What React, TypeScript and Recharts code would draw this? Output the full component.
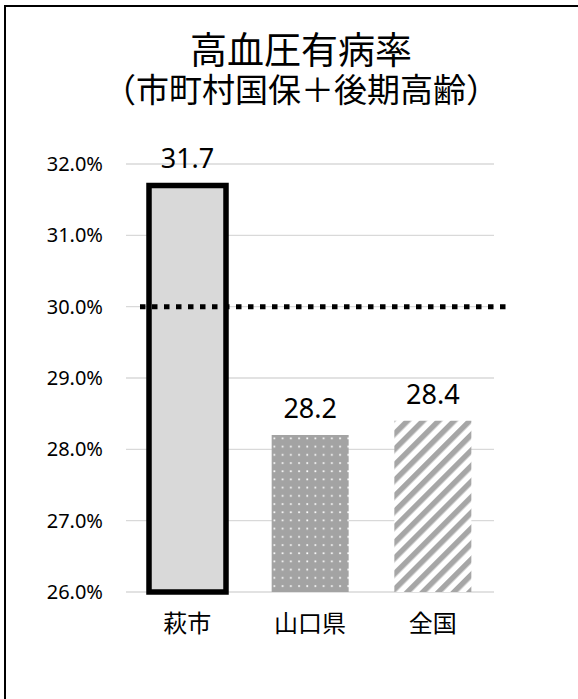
import React from 'react';
import { BarChart, Bar, XAxis, YAxis, CartesianGrid, ReferenceLine, LabelList, Cell } from 'recharts';

const areas = ['萩市', '山口県', '全国'];
const rates = [31.7, 28.2, 28.4];
const yTicks = [26, 27, 28, 29, 30, 31, 32];
const targetRate = 30;

const chartData = areas.map((area, i) => ({ area, rate: rates[i] }));

const cellFills = ['#d9d9d9', 'url(#dots)', 'url(#hatch)'];
const cellStrokes = ['#000', 'none', 'none'];

const jp = '"Noto Sans CJK JP", "Noto Sans", sans-serif';
const num = '"Noto Sans", "Open Sans", sans-serif';

// dotted target line runs a bit right of the plot area, as in the source
const TargetLine = (props: any) => (
  <line
    x1={props.x1 + 14}
    y1={props.y1}
    x2={props.x2 + 12}
    y2={props.y2}
    stroke="#000"
    strokeWidth={5}
    strokeDasharray="5.5 6.5"
  />
);

export default function App() {
  return (
    <div style={{ position: 'fixed', left: 0, top: 0, width: 578, height: 699, overflow: 'hidden', background: '#fff' }}>
      <div style={{ position: 'absolute', left: 4, top: 5, width: 700, height: 800, border: '2px solid #000' }} />
      <div style={{ position: 'absolute', left: 0, width: 602, top: 29.5, textAlign: 'center', fontFamily: jp, fontSize: 37, lineHeight: '37px', color: '#000' }}>
        高血圧有病率
      </div>
      <div style={{ position: 'absolute', left: 0, width: 602, top: 72, textAlign: 'center', fontFamily: jp, fontSize: 33, lineHeight: '33px', color: '#000' }}>
        （市町村国保＋後期高齢）
      </div>
      <div style={{ position: 'absolute', left: 0, top: 0 }}>
        <BarChart width={578} height={699} data={chartData} margin={{ top: 164, right: 84, bottom: 77, left: 0 }}>
          <defs>
            <pattern id="dots" width="8.2" height="8.2" patternUnits="userSpaceOnUse">
              <rect width="8.2" height="8.2" fill="#a3a3a3" />
              <rect x="3" y="3" width="1.7" height="1.7" fill="#fff" />
            </pattern>
            <pattern id="hatch" width="11" height="11" patternUnits="userSpaceOnUse" patternTransform="rotate(45)">
              <rect width="11" height="11" fill="#fff" />
              <rect x="0" y="0" width="5.5" height="11" fill="#a6a6a6" />
            </pattern>
          </defs>
          <CartesianGrid vertical={false} stroke="#d9d9d9" strokeWidth={1.4} />
          <XAxis
            dataKey="area"
            height={30}
            axisLine={false}
            tickLine={false}
            tickSize={0}
            tickMargin={23}
            tick={{ fontFamily: jp, fontSize: 24, fill: '#000' }}
          />
          <YAxis
            width={126}
            domain={[26, 32]}
            ticks={yTicks}
            axisLine={false}
            tickLine={false}
            tickSize={0}
            tickMargin={23}
            tickFormatter={(v: number) => `${v.toFixed(1)}%`}
            tick={{ fontFamily: num, fontSize: 20, fill: '#000' }}
          />
          <Bar dataKey="rate" barSize={77} isAnimationActive={false}>
            {chartData.map((d, i) => (
              <Cell key={d.area} fill={cellFills[i]} stroke={cellStrokes[i]} strokeWidth={i === 0 ? 5.5 : 0} />
            ))}
            <LabelList
              dataKey="rate"
              position="top"
              offset={17}
              formatter={(v: any) => Number(v).toFixed(1)}
              style={{ fontFamily: num, fontSize: 27, fill: '#000' }}
            />
          </Bar>
          <ReferenceLine y={targetRate} shape={TargetLine} />
        </BarChart>
      </div>
    </div>
  );
}
